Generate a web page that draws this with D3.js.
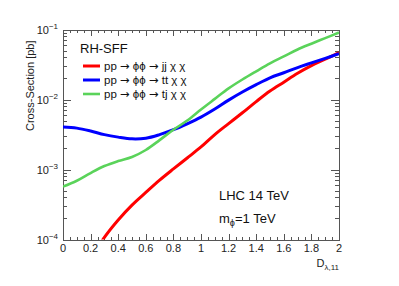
<!DOCTYPE html>
<html>
<head>
<meta charset="UTF-8">
<title>Cross-Section vs D</title>
<script src="https://cdn.jsdelivr.net/npm/d3@7"></script>
<style>
  body { margin:0; background:#fff; }
  svg { display:block; font-family: "Liberation Sans", Arial, sans-serif; }
  .axis path, .axis line { stroke:#555; shape-rendering:crispEdges; }
  .arr { font-family: "DejaVu Sans", sans-serif; }
</style>
</head>
<body>
<svg id="chart" width="399" height="286"></svg>
<script>
// D_{lambda,11} grid
const dVals = [0,0.1,0.2,0.3,0.4,0.5,0.6,0.7,0.8,0.9,1.0,1.1,1.2,1.3,1.4,1.5,1.6,1.7,1.8,1.9,2.0];
// cross sections [pb]
const ttXs = [4.05e-3,3.9e-3,3.55e-3,3.15e-3,2.9e-3,2.74e-3,2.8e-3,3.15e-3,3.7e-3,4.5e-3,5.6e-3,
              7.3e-3,9.8e-3,1.28e-2,1.63e-2,2.04e-2,2.41e-2,2.86e-2,3.33e-2,3.87e-2,4.5e-2];
const tjXs = [5.7e-4,6.9e-4,8.9e-4,1.12e-3,1.32e-3,1.51e-3,1.9e-3,2.63e-3,3.7e-3,5.0e-3,7.2e-3,
              1.02e-2,1.44e-2,1.93e-2,2.53e-2,3.29e-2,4.12e-2,5.18e-2,6.27e-2,7.53e-2,9.06e-2];
const jjD  = [0.2,0.3,0.4,0.5,0.6,0.7,0.8,0.9,1.0,1.1,1.2,1.3,1.4,1.5,1.6,1.7,1.8,1.9,2.0];
const jjXs = [5.0e-5,1.07e-4,1.9e-4,3.1e-4,4.7e-4,7.05e-4,1.02e-3,1.46e-3,2.1e-3,3.16e-3,4.52e-3,
              6.46e-3,9.33e-3,1.32e-2,1.77e-2,2.37e-2,3.05e-2,3.76e-2,4.68e-2];

const xTicks = [0,0.2,0.4,0.6,0.8,1,1.2,1.4,1.6,1.8,2];
const yExps = [-4,-3,-2,-1];

const L = 63, R = 339, T = 29.5, B = 239.5;
const svg = d3.select("#chart");

const x = d3.scaleLinear().domain([0,2]).range([L,R]);
const y = d3.scaleLog().domain([1e-4,1e-1]).range([B,T]);

// minor ticks
const xMinor = d3.range(0, 2.0001, 0.05).filter(v => Math.abs(v*5 - Math.round(v*5)) > 1e-6);
const yMinor = [];
yExps.slice(0,3).forEach(e => { for (let k=2;k<=9;k++) yMinor.push(k*Math.pow(10,e)); });

function ax(gen, tr) {
  return svg.append("g").attr("class","axis").attr("transform",tr).call(gen)
    .call(g => g.selectAll("text").remove());
}
ax(d3.axisBottom(x).tickValues(xTicks).tickSize(-6).tickSizeOuter(0), `translate(0,${B})`);
ax(d3.axisBottom(x).tickValues(xMinor).tickSize(-3).tickSizeOuter(0), `translate(0,${B})`);
ax(d3.axisTop(x).tickValues(xTicks).tickSize(-6).tickSizeOuter(0), `translate(0,${T})`);
ax(d3.axisTop(x).tickValues(xMinor).tickSize(-3).tickSizeOuter(0), `translate(0,${T})`);
ax(d3.axisLeft(y).tickValues(yExps.map(e=>Math.pow(10,e))).tickSize(-8).tickSizeOuter(0), `translate(${L},0)`);
ax(d3.axisLeft(y).tickValues(yMinor).tickSize(-4).tickSizeOuter(0), `translate(${L},0)`);
ax(d3.axisRight(y).tickValues(yExps.map(e=>Math.pow(10,e))).tickSize(-8).tickSizeOuter(0), `translate(${R},0)`);
ax(d3.axisRight(y).tickValues(yMinor).tickSize(-4).tickSizeOuter(0), `translate(${R},0)`);

// x tick labels
svg.append("g").selectAll("text").data(xTicks).join("text")
  .attr("x", d => x(d)).attr("y", B + 12)
  .attr("text-anchor","middle").attr("font-size",11).attr("fill","#222")
  .text(d => d3.format("")(+d.toFixed(1)));

// y tick labels 10^n
const yl = svg.append("g").selectAll("text").data(yExps).join("text")
  .attr("x", L - 5).attr("y", d => y(Math.pow(10,d)) + 4)
  .attr("text-anchor","end").attr("font-size",11).attr("fill","#222");
yl.append("tspan").text("10");
yl.append("tspan").attr("dy",-5).attr("font-size",8).text(d => "\u2212" + (-d));

// axis titles
svg.append("text")
  .attr("transform", `translate(34,${T+11}) rotate(-90)`)
  .attr("text-anchor","end").attr("font-size",11).attr("fill","#222")
  .text("Cross-Section [pb]");
const xt = svg.append("text").attr("x", R).attr("y", 267)
  .attr("text-anchor","end").attr("font-size",11).attr("fill","#222");
xt.append("tspan").text("D");
xt.append("tspan").attr("dy",3).attr("font-size",8).text("\u03bb,11");

// curves
svg.append("clipPath").attr("id","clip").append("rect")
  .attr("x",L).attr("y",T).attr("width",R-L).attr("height",B-T);

const line = d3.line().x(d => x(d[0])).y(d => y(d[1])).curve(d3.curveCatmullRom);
const series = [
  { label:"jj", xs:jjD, ys:jjXs, color:"#ff0000", w:3 },
  { label:"tt", xs:dVals, ys:ttXs, color:"#0000ff", w:3 },
  { label:"tj", xs:dVals, ys:tjXs, color:"#5ad35a", w:2.6 }
];
const cg = svg.append("g").attr("clip-path","url(#clip)");
series.forEach(s => {
  cg.append("path").attr("d", line(s.xs.map((v,i)=>[v,s.ys[i]])))
    .attr("fill","none").attr("stroke",s.color).attr("stroke-width",s.w);
});

// legend
svg.append("text").attr("x",80).attr("y",53).attr("font-size",13).attr("fill","#111").text("RH-SFF");
series.forEach((s,i) => {
  const ly = 66 + i*14;
  svg.append("line").attr("x1",83).attr("x2",100).attr("y1",ly).attr("y2",ly)
    .attr("stroke",s.color).attr("stroke-width",s.w);
  const t = svg.append("text").attr("x",104).attr("y",ly+4).attr("font-size",11.5).attr("fill","#111");
  t.append("tspan").text("pp ");
  t.append("tspan").attr("class","arr").text("\u2192");
  t.append("tspan").text(" \u03d5\u03d5 ");
  t.append("tspan").attr("class","arr").text("\u2192");
  t.append("tspan").text(` ${s.label} \u03c7 \u03c7`);
});

// labels
svg.append("text").attr("x",219).attr("y",200).attr("font-size",13).attr("fill","#111").text("LHC 14 TeV");
const m = svg.append("text").attr("x",219).attr("y",223).attr("font-size",13).attr("fill","#111");
m.append("tspan").text("m");
m.append("tspan").attr("dy",3).attr("font-size",9).text("\u03d5");
m.append("tspan").attr("dy",-3).text("=1 TeV");
</script>
</body>
</html>
